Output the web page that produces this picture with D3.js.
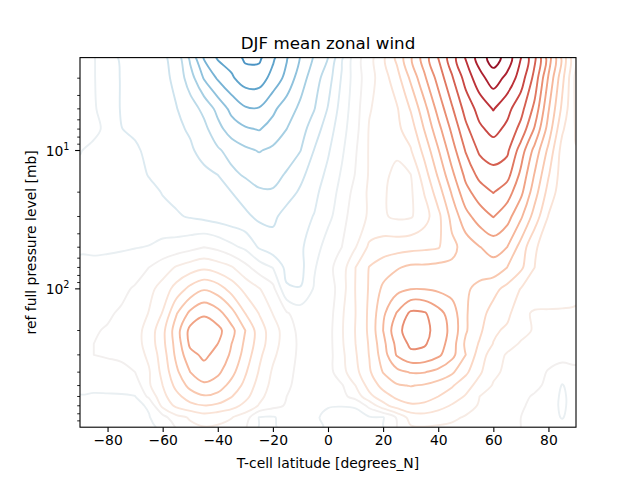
<!DOCTYPE html>
<html><head><meta charset="utf-8">
<script src="https://cdn.jsdelivr.net/npm/d3@7"></script>
<style>
body{margin:0;background:#fff}
svg{display:block}
text{font-family:"DejaVu Sans",sans-serif;fill:#000}
</style>
</head><body>
<svg id="chart" width="640" height="480"></svg>
<script>
// ---- grid coordinates ----
const latitudes = [-90,-85,-80,-75,-70,-65,-60,-55,-50,-45,-40,-35,-30,-25,-20,-15,-10,-5,0,5,10,15,20,25,30,35,40,45,50,55,60,65,70,75,80,85,90];
const pressureLevels = [2.13,3,5,7,10,15,20,30,50,70,100,150,200,250,300,400,500,600,700,850,1000];

// ---- zonal wind [m/s], one row per pressure level ----
const u_2mb   = [-3.5,-4.7,-8.2,-10.6,-11.8,-12.9,-14.1,-16.9,-26.2,-35.5,-40.6,-42,-46,-46,-41,-35.5,-29.8,-24.5,-20,-10.75,-2.2,3.1,9,16.2,24.3,32.5,40.1,47.8,55.4,62.3,67.5,63,55.1,46.1,32.5,18.8,4.5];
const u_3mb   = [-3.8,-4.7,-7.7,-10.3,-11.3,-12.3,-13.4,-16.4,-22.6,-30.4,-35.6,-39.3,-42.5,-42.5,-38.2,-33.5,-27.3,-22.3,-17.3,-9.5,-2.5,3,7.7,13,20.9,29.1,36.8,44.4,51.9,58.2,62.5,58.7,52.6,43.3,29.5,16.5,3.5];
const u_5mb   = [-4.2,-4.6,-6.7,-10.4,-11.2,-12.1,-13.3,-14.8,-17.7,-21.3,-26.5,-31.4,-34.4,-34.6,-31,-27.5,-23.9,-20.2,-14.7,-7.9,-2.1,4.6,7.2,9.5,15.4,23.3,31.8,39.4,46.9,51.8,55.3,51.5,46.8,38.6,25.5,13.8,4];
const u_7mb   = [-4.6,-4.5,-5.5,-9.9,-10.9,-11.9,-13,-14.2,-15.5,-18.6,-23.3,-27.5,-29.4,-30.3,-28.2,-25,-22,-17.5,-12.4,-6.9,-1.6,5.4,7.1,8.9,12.4,20.3,28.3,36.1,43.8,49.1,51.5,48.9,43.4,34.4,22.9,10.8,4.5];
const u_10mb  = [-4.9,-5.5,-6.3,-7.5,-9.2,-11.2,-12.3,-13.3,-14.4,-16.4,-19.3,-21.8,-24,-25.3,-24,-21.9,-20.1,-14.8,-10.6,-5.8,-0.5,5.5,5.8,5.5,9.6,16.6,24.6,32.8,40.4,45.8,47.5,46,37.6,28.3,18.8,8,5.2];
const u_15mb  = [-5.5,-6,-6.6,-7.3,-8.5,-10.2,-11.2,-12.2,-13.2,-14,-15,-18.8,-20.6,-21.4,-21.3,-19.6,-16.2,-12.6,-8.8,-4.4,0.3,5.5,5.6,4.3,4.9,12.8,20.7,28.8,36.3,41.5,43.3,41.8,33.8,24.6,15.4,7.5,6];
const u_20mb  = [-6,-6.3,-6.8,-7.3,-8,-8.8,-10.2,-11.2,-12.2,-13,-13.7,-15,-17.2,-19.5,-19.6,-17,-14.3,-11.2,-7.6,-3.4,1.8,5.8,5.5,3.6,4.2,10.3,17.6,25.6,33.4,37.5,40.2,37.3,31.3,22.1,13.2,7,6.5];
const u_30mb  = [-6.3,-6.5,-6.8,-7.2,-7.7,-8.2,-8.8,-9.5,-10.4,-11.3,-12.2,-13,-14,-16,-16,-13.2,-11.5,-9.8,-6.3,-2.1,3.2,5.5,5.5,4.2,4.5,7.9,13.6,21.7,28.3,32.5,35.2,32,25.8,17.9,9.7,7,6.8];
const u_50mb  = [-5.6,-5.5,-5.5,-5.4,-5.2,-4.8,-3.5,-2.8,-1.5,0,-1.3,-3.8,-6,-10.5,-13,-12.5,-10.8,-7.3,-2.7,0,4.8,11,12.5,13,13.5,14,14.6,18.6,22.2,24.8,27,25,18,10.5,8,7,7];
const u_70mb  = [-4,-4.3,-4,-3.5,-2,0,2.5,5.5,7.5,9,7.5,5.5,1.5,-2.5,-5.2,-11.5,-11.5,-5.5,-1.5,2.5,10,15.2,17.5,19.5,21,21,21.5,21,20.5,22.5,23,20,16,10,8,7.5,7];
const u_100mb = [-2.5,-2.2,-1.8,-1,0.5,3.5,7,12,16.5,19.5,17.5,13,8.5,5.3,1.5,-9.4,-9.8,-4.5,-3,2.8,10.2,15.5,21,23.5,24.8,24.8,24,23,20.8,18.5,16.5,13.5,9.8,8,7.5,7,6.5];
const u_150mb = [-1.5,-1,-0.5,0.5,2,5.2,10.3,19.6,26.2,29.3,26.8,21.9,14.9,9.8,4.8,0.5,-2.5,-3,-2.5,4.2,10,16,24,30.3,36,35.5,31.8,27.6,20.5,16.8,13.2,11.5,6,4.5,4.5,4.5,4.3];
const u_200mb = [-0.8,-0.3,0.3,1,3,7,13.5,22.8,31.5,33,31.5,26.5,20,12.5,7.3,2.5,-1.5,-3,-2,4.5,10.2,16,25,33.5,37.5,36.5,33,28.5,20.5,16,11,9,6.5,4.5,3.5,3,3];
const u_250mb = [-0.5,0,0.5,1.2,3,7,13.5,22,31,32.5,30,25,19,12.5,7,2.5,-1,-3,-2,4.3,10,15.5,23.5,31.5,36,35.5,32.5,27.5,19,14.5,9.8,6.8,4.5,3.5,3,2.5,2.5];
const u_300mb = [-0.5,0,0.5,1,2.5,6,12.5,21.3,28.5,31,28.5,24.2,18,11.2,6,2,-1,-2.5,-2,3.8,9.5,15.2,22.5,30.5,33.8,33.5,31,26.5,20,12.5,7.5,4.5,3.5,3,2.5,2,2];
const u_400mb = [-3,-2.5,-2,-1.5,0,4.5,11.5,19,25,28,26,21.6,15.6,9.6,4.3,1,-1,-2,-2,3.2,8.5,14.3,20.2,23.5,25.3,25.2,23.5,20.8,16,10.8,6,4,3,2.5,-0.5,-2.5,-1.5];
const u_500mb = [-4.2,-4.2,-4,-4,-3,4.3,10,16.5,21.5,24,22.5,18.3,13.6,8,3.5,0.5,-1,-1.5,-1.5,-0.5,5,12,16.5,19.5,20.2,19.5,18,15.5,12,8,4.6,3,2,1,-1,-5.3,-2.5];
const u_600mb = [-5.2,-5.4,-5.4,-5.3,-5.1,1,8.5,13.5,17.5,19.5,18.5,15.2,11.5,6.5,2.5,0,-1.5,-2,-2.5,-1.5,2,8.5,13,16,17.5,17,15,12.5,9.5,5,3,2,1,-0.5,-2.5,-5.8,-3];
const u_700mb = [-5.8,-6,-6.2,-6.2,-6,-4.5,6.5,11,13.5,14.8,14,12,8.5,4.6,1.5,-0.5,-2,-4,-4.8,-4.9,-4.7,1.5,8,12.5,14.2,13.8,12,9.5,7,4.5,2.5,1.5,0.5,-1,-3,-5.8,-3];
const u_850mb = [-6,-6,-6.3,-6.3,-6,-5.3,-2,3.5,5.5,7.5,6.5,5.2,2.5,-5.2,-5.5,-3,-2.5,-4.5,-5.8,-6.2,-6,-5.5,-5.3,0.5,7,8,7,6,4.5,3,2,1,0,-1.5,-3,-5.3,-2.5];
const u_1000mb= [-5.5,-5.6,-5.8,-5.8,-5.6,-5.5,-4.5,0.5,4,4.8,4.5,3.5,0.5,-5.3,-5.6,-3.5,-2,-4,-5.5,-6,-5.8,-5.5,-5.2,0,4.5,4.8,4.5,4,3,2.5,2,1,0,-1,-2.5,-3,-2];
const zonalWind = [u_2mb,u_3mb,u_5mb,u_7mb,u_10mb,u_15mb,u_20mb,u_30mb,u_50mb,u_70mb,u_100mb,u_150mb,u_200mb,u_250mb,u_300mb,u_400mb,u_500mb,u_600mb,u_700mb,u_850mb,u_1000mb];

const contourLevels = [-45,-40,-35,-30,-25,-20,-15,-10,-5,0,5,10,15,20,25,30,35,40,45,50,55,60,65];
const xTicks = [-80,-60,-40,-20,0,20,40,60,80];
const yMajorTicks = [10,100];
const yMinorTicks = [3,4,5,6,7,8,9,20,30,40,50,60,70,80,90,200,300,400,500,600,700,800,900];
const colorLimit = 75;

// ---- layout ----
const L = 80, R = 576, T = 57.6, B = 427.2;
const svg = d3.select('#chart');
const x = d3.scaleLinear().domain([-90, 90]).range([L, R]);
const y = d3.scaleLog().domain([2.13, 1000]).range([T, B]);
const color = v => d3.interpolateRdBu(1 - (v + colorLimit) / (2 * colorLimit));

svg.append('defs').append('clipPath').attr('id','plotclip')
  .append('rect').attr('x',L).attr('y',T).attr('width',R-L).attr('height',B-T);

// ---- contours ----
const nx = latitudes.length, ny = pressureLevels.length;
const values = [];
zonalWind.forEach(row => row.forEach(v => values.push(v)));
const contours = d3.contours().size([nx, ny]).thresholds(contourLevels)(values);
const latOfIndex = d3.scaleLinear().domain(latitudes.map((_, i) => i)).range(latitudes);
const logpOfIndex = d3.scaleLinear().domain(pressureLevels.map((_, i) => i)).range(pressureLevels.map(Math.log10));
const toPx = p => [x(latOfIndex(p[0] - 0.5)), y(Math.pow(10, logpOfIndex(p[1] - 0.5)))];
const ringLine = d3.line().curve(d3.curveCatmullRomClosed.alpha(0.5));

const gC = svg.append('g').attr('clip-path','url(#plotclip)');
contours.forEach(c => {
  let d = '';
  c.coordinates.forEach(poly => poly.forEach(ring => {
    const pts = ring.slice(0, ring.length - 1).map(toPx);
    if (pts.length > 2) d += ringLine(pts);
  }));
  gC.append('path').attr('d', d).attr('fill','none')
    .attr('stroke', color(c.value)).attr('stroke-width', 1.9)
    .attr('stroke-linejoin','round');
});

// ---- axes ----
const gx = svg.append('g').attr('transform',`translate(0,${B})`)
  .call(d3.axisBottom(x).tickValues(xTicks).tickSize(4.9).tickPadding(3.5).tickFormat(d3.format('d')));
gx.select('.domain').remove();
gx.selectAll('line').attr('stroke','#000').attr('stroke-width',1.1);
gx.selectAll('text').attr('font-size','13.9px').attr('font-family','DejaVu Sans');

const gy = svg.append('g');
gy.selectAll('line.minor').data(yMinorTicks).join('line')
  .attr('x1', L).attr('x2', L - 2.8).attr('y1', d => y(d)).attr('y2', d => y(d))
  .attr('stroke','#000').attr('stroke-width',0.85);
gy.selectAll('line.major').data(yMajorTicks).join('line')
  .attr('x1', L).attr('x2', L - 4.9).attr('y1', d => y(d)).attr('y2', d => y(d))
  .attr('stroke','#000').attr('stroke-width',1.1);
const yl = gy.selectAll('text.lab').data(yMajorTicks).join('text')
  .attr('x', 69.5).attr('y', d => y(d) + 5).attr('text-anchor','end').attr('font-size','13.9px');
yl.append('tspan').text('10');
yl.append('tspan').attr('dy', -6).attr('font-size','9.7px').text(d => String(Math.round(Math.log10(d))));

// frame
svg.append('rect').attr('x',L).attr('y',T).attr('width',R-L).attr('height',B-T)
  .attr('fill','none').attr('stroke','#000').attr('stroke-width',1.1);

// labels
svg.append('text').attr('x',(L+R)/2).attr('y',49.3).attr('text-anchor','middle')
  .attr('font-size','16.7px').text('DJF mean zonal wind');
svg.append('text').attr('x',(L+R)/2).attr('y',468).attr('text-anchor','middle')
  .attr('font-size','13.9px').text('T-cell latitude [degrees_N]');
svg.append('text').attr('transform',`translate(36,${(T+B)/2}) rotate(-90)`).attr('text-anchor','middle')
  .attr('font-size','13.9px').text('ref full pressure level [mb]');
</script>
</body></html>
